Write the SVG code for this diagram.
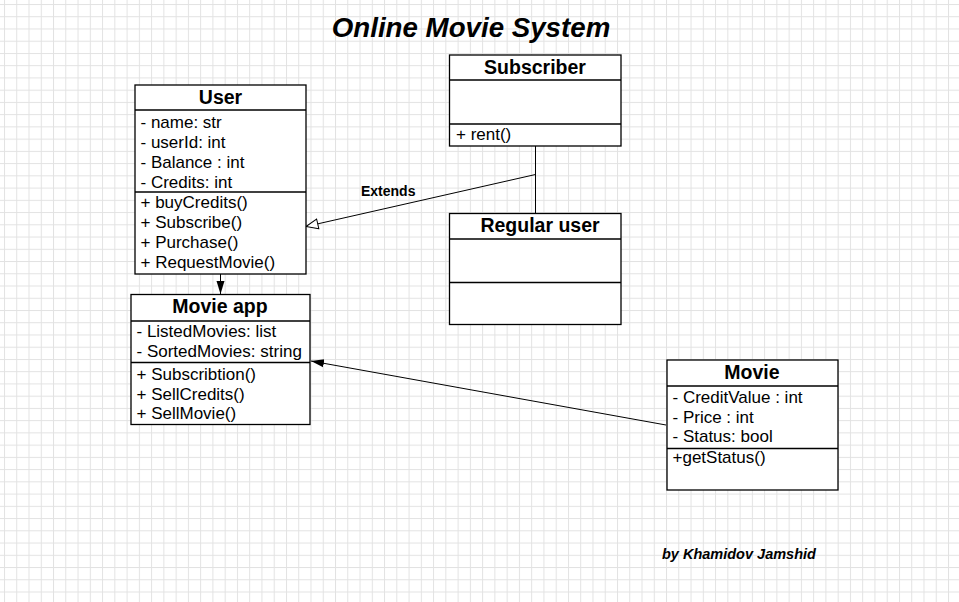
<svg xmlns="http://www.w3.org/2000/svg" width="959" height="602" viewBox="0 0 959 602">
<style>
.box{fill:#fff;stroke:#000;stroke-width:1.3}
.sep{stroke:#000;stroke-width:1.3}
.ttl{font-family:"Liberation Sans",Arial,sans-serif;font-weight:bold;font-size:19.5px;text-anchor:middle;fill:#000}
.txt{font-family:"Liberation Sans",Arial,sans-serif;font-size:17px;fill:#000}
.con{stroke:#000;stroke-width:1;fill:none}
</style>
<defs>
<pattern id="grid" patternUnits="userSpaceOnUse" x="4" y="4" width="12.26" height="12.24">
<rect x="0" y="0" width="1" height="12.24" fill="#e2e2e2"/>
<rect x="0" y="0" width="12.26" height="1" fill="#e2e2e2"/>
</pattern>
<marker id="filled" markerWidth="14" markerHeight="10" refX="13" refY="5" orient="auto" markerUnits="userSpaceOnUse">
<path d="M0,1 L13,5 L0,9 Z" fill="#000"/>
</marker>
<marker id="hollow" markerWidth="14" markerHeight="12" refX="13" refY="6" orient="auto" markerUnits="userSpaceOnUse">
<path d="M1,1 L13,6 L1,11 Z" fill="#fff" stroke="#000" stroke-width="1"/>
</marker>
</defs>
<rect width="959" height="602" fill="#fff"/>
<rect width="959" height="602" fill="url(#grid)"/>

<text x="471" y="37" font-family="'Liberation Sans',Arial,sans-serif" font-weight="bold" font-style="italic" font-size="27.7" text-anchor="middle">Online Movie System</text>

<g id="connectors">
<line class="con" x1="220.5" y1="274" x2="220.5" y2="294" marker-end="url(#filled)"/>
<line class="con" x1="666" y1="425" x2="311" y2="361" marker-end="url(#filled)"/>
<line class="con" x1="535.5" y1="146" x2="535.5" y2="213"/>
<line class="con" x1="535.5" y1="174.5" x2="306" y2="226.5" marker-end="url(#hollow)"/>
<text x="361" y="195.5" font-family="'Liberation Sans',Arial,sans-serif" font-weight="bold" font-size="14">Extends</text>
</g>

<g id="user">
<rect class="box" x="135" y="85" width="171" height="189"/>
<line class="sep" x1="135" y1="110" x2="306" y2="110"/>
<line class="sep" x1="135" y1="192" x2="306" y2="192"/>
<text class="ttl" x="220.5" y="104">User</text>
<text class="txt" x="140.5" y="128">- name: str</text>
<text class="txt" x="140.5" y="148">- userId: int</text>
<text class="txt" x="140.5" y="168">- Balance : int</text>
<text class="txt" x="140.5" y="188">- Credits: int</text>
<text class="txt" x="140.5" y="208">+ buyCredits()</text>
<text class="txt" x="140.5" y="228">+ Subscribe()</text>
<text class="txt" x="140.5" y="248">+ Purchase()</text>
<text class="txt" x="140.5" y="268">+ RequestMovie()</text>
</g>

<g id="movieapp">
<rect class="box" x="131" y="294.5" width="179" height="130"/>
<line class="sep" x1="131" y1="321" x2="310" y2="321"/>
<line class="sep" x1="131" y1="362.5" x2="310" y2="362.5"/>
<text class="ttl" x="220" y="313">Movie app</text>
<text class="txt" x="136.5" y="337">- ListedMovies: list</text>
<text class="txt" x="136.5" y="357">- SortedMovies: string</text>
<text class="txt" x="136.5" y="380">+ Subscribtion()</text>
<text class="txt" x="136.5" y="400">+ SellCredits()</text>
<text class="txt" x="136.5" y="419">+ SellMovie()</text>
</g>

<g id="subscriber">
<rect class="box" x="449.5" y="55" width="171.5" height="91"/>
<line class="sep" x1="449.5" y1="80" x2="621" y2="80"/>
<line class="sep" x1="449.5" y1="124" x2="621" y2="124"/>
<text class="ttl" x="535" y="73.5">Subscriber</text>
<text class="txt" x="456" y="140">+ rent()</text>
</g>

<g id="regularuser">
<rect class="box" x="449.5" y="213.5" width="171.5" height="111"/>
<line class="sep" x1="449.5" y1="239" x2="621" y2="239"/>
<line class="sep" x1="449.5" y1="282.5" x2="621" y2="282.5"/>
<text class="ttl" x="540" y="232">Regular user</text>
</g>

<g id="movie">
<rect class="box" x="667" y="360" width="171" height="130"/>
<line class="sep" x1="667" y1="386" x2="838" y2="386"/>
<line class="sep" x1="667" y1="448.5" x2="838" y2="448.5"/>
<text class="ttl" x="752" y="379">Movie</text>
<text class="txt" x="672.5" y="403">- CreditValue : int</text>
<text class="txt" x="672.5" y="423">- Price : int</text>
<text class="txt" x="672.5" y="442">- Status: bool</text>
<text class="txt" x="672.5" y="463">+getStatus()</text>
</g>

<text x="662" y="558.5" font-family="'Liberation Sans',Arial,sans-serif" font-weight="bold" font-style="italic" font-size="14.5">by Khamidov Jamshid</text>
</svg>
